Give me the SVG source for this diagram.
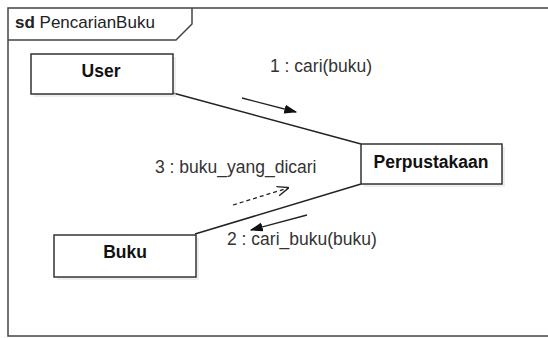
<svg xmlns="http://www.w3.org/2000/svg" width="548" height="338" viewBox="0 0 548 338">
<style>
.box{fill:#fff;stroke:#333;stroke-width:1.5}
.shadow{fill:#ddd;opacity:0.5}
.name{font-family:"Liberation Sans",Arial,sans-serif;font-size:17.5px;font-weight:bold;fill:#111;text-anchor:middle}
.lbl{font-family:"Liberation Sans",Arial,sans-serif;font-size:17.5px;fill:#333}
.link{stroke:#222;stroke-width:1.5;fill:none}
.msg{stroke:#222;stroke-width:1.3;fill:none}
</style>
<defs>
<marker id="fill" viewBox="0 0 10 10" refX="9" refY="5" markerWidth="13" markerHeight="13" markerUnits="userSpaceOnUse" orient="auto"><path d="M0,1.5 L10,5 L0,8.5 z" fill="#111"/></marker>
<marker id="open" viewBox="0 0 10 10" refX="9" refY="5" markerWidth="12" markerHeight="12" markerUnits="userSpaceOnUse" orient="auto"><path d="M0,1 L10,5 L0,9" fill="none" stroke="#222" stroke-width="1.2"/></marker>
</defs>
<rect width="548" height="338" fill="#fff"/>
<g id="frame">
<rect x="8" y="8" width="560" height="328" fill="none" stroke="#444" stroke-width="1.5"/>
<path d="M8,40 H176 L192,24 V8" fill="none" stroke="#444" stroke-width="1.5"/>
<text x="15" y="28" class="lbl" style="fill:#222;font-size:17px"><tspan font-weight="bold">sd</tspan> PencarianBuku</text>
</g>
<g id="connectors">
<line class="link" x1="173" y1="93" x2="361" y2="144"/>
<line class="link" x1="195" y1="234" x2="361" y2="184"/>
<line class="msg" x1="242" y1="98" x2="296" y2="112" marker-end="url(#fill)"/>
<line class="msg" x1="307" y1="215" x2="251" y2="230" marker-end="url(#fill)"/>
<line class="msg" x1="233" y1="205" x2="288" y2="188" stroke-dasharray="4,3" marker-end="url(#open)"/>
<text class="lbl" x="270" y="72">1 : cari(buku)</text>
<text class="lbl" x="227" y="245">2 : cari_buku(buku)</text>
<text class="lbl" x="155" y="173">3 : buku_yang_dicari</text>
</g>
<g id="user">
<rect class="shadow" x="34" y="57" width="142" height="40"/>
<rect class="box" x="31" y="54" width="142" height="40"/>
<text class="name" x="101" y="77">User</text>
</g>
<g id="perpustakaan">
<rect class="shadow" x="364" y="147" width="141" height="40"/>
<rect class="box" x="361" y="144" width="141" height="40"/>
<text class="name" x="431" y="168">Perpustakaan</text>
</g>
<g id="buku">
<rect class="shadow" x="57" y="238" width="142" height="42"/>
<rect class="box" x="54" y="235" width="142" height="42"/>
<text class="name" x="125" y="258">Buku</text>
</g>
</svg>
